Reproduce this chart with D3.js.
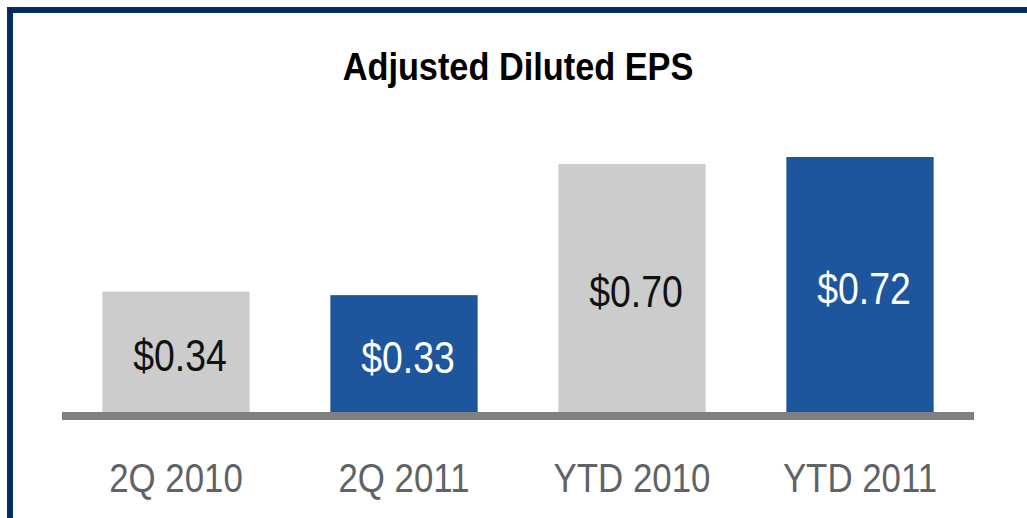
<!DOCTYPE html>
<html>
<head>
<meta charset="utf-8">
<script src="https://cdn.jsdelivr.net/npm/d3@7"></script>
<style>
	body { margin: 0; background: #fff; }
	text { font-family: "Liberation Sans Narrow", "Arial Narrow", "Liberation Sans", sans-serif; }
</style>
</head>
<body>
<script>
	const categories = ["2Q 2010", "2Q 2011", "YTD 2010", "YTD 2011"];
	const values = [0.34, 0.33, 0.70, 0.72];
	const valueLabels = ["$0.34", "$0.33", "$0.70", "$0.72"];
	const isCurrent = [false, true, false, true];
	const title = "Adjusted Diluted EPS";

	const width = 1027;
	const height = 518;
	//no condensed font installed, so squeeze text horizontally
	const squeeze = 0.85;

	const svg = d3.select("body")
		.append("svg")
		.attr("width", width)
		.attr("height", height);

	//frame, only left and top edges show
	svg.append("path")
		.attr("d", "M10,518 V10 H1027")
		.attr("fill", "none")
		.attr("stroke", "#022c66")
		.attr("stroke-width", 6);

	svg.append("text")
		.attr("transform", "translate(518,80) scale(0.88,1)")
		.attr("text-anchor", "middle")
		.attr("font-size", 39)
		.attr("font-weight", "bold")
		.attr("fill", "#000")
		.text(title);

	const xScale = d3.scaleBand()
		.domain(categories)
		.range([62, 974])
		.paddingInner(0.354)
		.paddingOuter(0.177);

	const yScale = d3.scaleLinear()
		.domain([0, 0.72])
		.range([412, 157]);

	//bars
	svg.selectAll("rect.bar")
		.data(values)
		.enter()
		.append("rect")
		.attr("class", "bar")
		.attr("x", function(d, i) { return xScale(categories[i]) })
		.attr("y", function(d) { return yScale(d) })
		.attr("width", xScale.bandwidth())
		.attr("height", function(d) { return yScale(0) - yScale(d) })
		.attr("fill", function(d, i) { return isCurrent[i] ? "#1d569c" : "#cccccc" });

	//value labels centred in the bars
	svg.selectAll("text.value")
		.data(values)
		.enter()
		.append("text")
		.attr("class", "value")
		.attr("transform", function(d, i) {
			const x = xScale(categories[i]) + xScale.bandwidth() / 2 + 4;
			const y = (yScale(d) + yScale(0)) / 2 + 19;
			return "translate(" + x + "," + y + ") scale(" + squeeze + ",1)";
		})
		.attr("text-anchor", "middle")
		.attr("font-size", 44)
		.attr("fill", function(d, i) { return isCurrent[i] ? "#ffffff" : "#111111" })
		.text(function(d, i) { return valueLabels[i] });

	//baseline
	svg.append("line")
		.attr("x1", 62)
		.attr("x2", 974)
		.attr("y1", yScale(0) + 4)
		.attr("y2", yScale(0) + 4)
		.attr("stroke", "#808080")
		.attr("stroke-width", 8);

	//category labels
	svg.selectAll("text.cat")
		.data(categories)
		.enter()
		.append("text")
		.attr("class", "cat")
		.attr("transform", function(d) {
			return "translate(" + (xScale(d) + xScale.bandwidth() / 2) + ",492) scale(" + squeeze + ",1)";
		})
		.attr("text-anchor", "middle")
		.attr("font-size", 41)
		.attr("fill", "#5f6266")
		.text(function(d) { return d });
</script>
</body>
</html>
